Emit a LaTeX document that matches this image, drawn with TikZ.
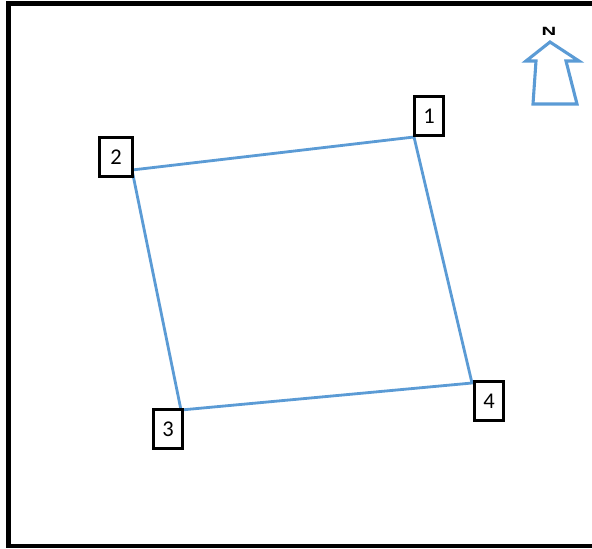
\documentclass[tikz,border=0pt]{standalone}
\usepackage{fontspec}
\setmainfont{Carlito}
\newfontfamily\arrowfont{Liberation Sans}
\usetikzlibrary{positioning}
\definecolor{plotblue}{RGB}{91,155,213}

\begin{document}
\begin{tikzpicture}[x=0.025cm, y=-0.025cm,
    frameline/.style={line width=3.5pt, black},
    side/.style={line width=2pt, plotblue},
    pointbox/.style={draw, line width=2.1pt, fill=white, minimum width=20pt,
        minimum height=28pt, inner sep=0pt, font=\fontsize{16}{16}\selectfont},
    northarrow/.style={line width=2.2pt, plotblue, line join=miter}]
    \useasboundingbox (0,0) rectangle (592,548);
    \clip (0,0) rectangle (592,548);
    \draw[frameline] (8.5,3.5) rectangle (600,546);

    % corners of the plot
    \coordinate (c1) at (414,137);
    \coordinate (c2) at (132,170);
    \coordinate (c3) at (181,410);
    \coordinate (c4) at (472,383);
    \draw[side] (c1) -- (c2) -- (c3) -- (c4) -- cycle;

    \node[pointbox] (p1) at (429,116) {1};
    \node[pointbox, minimum width=23pt] (p2) at (116,157) {2};
    \node[pointbox] (p3) at (168,429) {3};
    \node[pointbox] (p4) at (489,401) {4};

    % north arrow
    \draw[northarrow] (550,42) -- (579,61) -- (566,61) -- (577,104)
        -- (533,104) -- (536,61) -- (526,61) -- cycle;
    \node[font=\arrowfont\bfseries\fontsize{8.5}{8.5}\selectfont, xscale=1.7,
        inner sep=0pt] (north) at (549,31) {N};
\end{tikzpicture}
\end{document}
